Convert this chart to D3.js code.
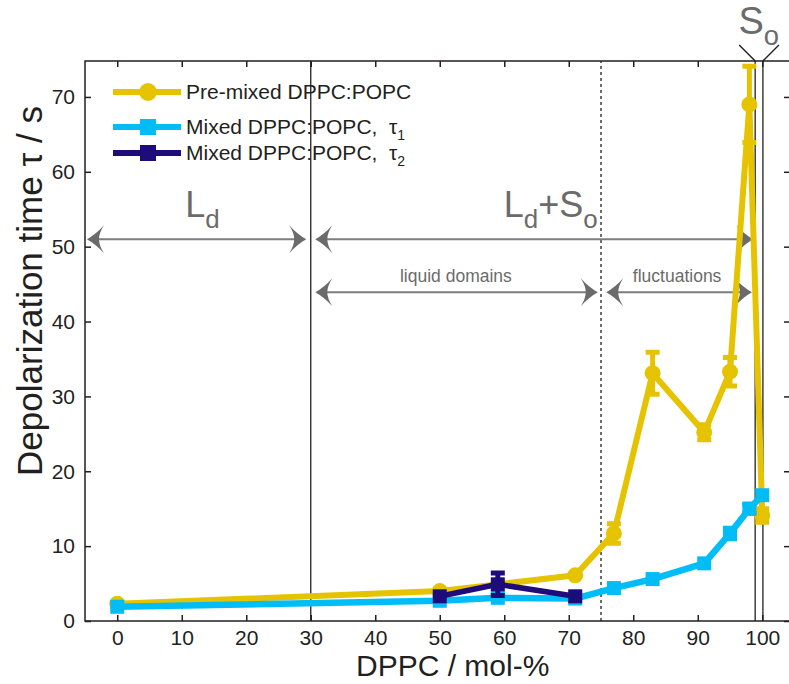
<!DOCTYPE html>
<html>
<head>
<meta charset="utf-8">
<script src="https://cdn.jsdelivr.net/npm/d3@7"></script>
<style>
  html, body { margin: 0; padding: 0; background: #fff; }
  svg { display: block; font-family: "Liberation Sans", Arial, Helvetica, sans-serif; }
</style>
</head>
<body>
<svg id="chart" width="789" height="684"></svg>
<script>
// Depolarization time vs DPPC content
const xTicks = [0, 10, 20, 30, 40, 50, 60, 70, 80, 90, 100];
const yTicks = [0, 10, 20, 30, 40, 50, 60, 70];

// Pre-mixed DPPC:POPC
const preX   = [0, 50, 71, 77, 83, 91, 95, 98, 100];
const preY   = [2.3, 4.0, 6.1, 11.7, 33.1, 25.2, 33.3, 69.0, 14.1];
const preErr = [0, 0, 0, 1.3, 2.8, 1.0, 1.9, 5.1, 0.9];

// Mixed DPPC:POPC, tau 1
const t1X   = [0, 50, 59, 71, 77, 83, 91, 95, 98, 100];
const t1Y   = [1.9, 2.7, 3.1, 3.0, 4.4, 5.6, 7.7, 11.7, 15.0, 16.8];
const t1Err = [0, 0, 0, 0, 0, 0, 0, 0.7, 0.6, 0];

// Mixed DPPC:POPC, tau 2
const t2X   = [50, 59, 71];
const t2Y   = [3.3, 4.9, 3.3];
const t2Err = [0, 1.5, 0];

// phase boundaries (mol-% DPPC)
const solidBoundaries = [30, 98.9, 100.1];
const dottedBoundary = 75;

// annotation arrows: [from, to, level]
const arrowRows = [
  [-4.7, 29.3, 51.0],
  [30.7, 98.6, 51.0],
  [30.7, 74.5, 43.9],
  [75.8, 98.4, 43.9]
];

const COL_PRE = "#e6c300";
const COL_T1  = "#00bdf7";
const COL_T2  = "#1d0c7a";
const GREY    = "#6b6b6b";
const INK     = "#231f20";

const svg = d3.select("#chart");
const x = d3.scaleLinear().domain([-5, 104.3]).range([85, 790]);
const y = d3.scaleLinear().domain([0, 74.8]).range([621, 61]);

// phase boundary lines
svg.selectAll("line.bound").data(solidBoundaries).join("line")
  .attr("x1", d => x(d)).attr("x2", d => x(d))
  .attr("y1", y(0)).attr("y2", y(74.8))
  .attr("stroke", INK).attr("stroke-width", 1.3);
svg.append("line")
  .attr("x1", x(dottedBoundary)).attr("x2", x(dottedBoundary))
  .attr("y1", y(0)).attr("y2", y(74.8))
  .attr("stroke", INK).attr("stroke-width", 1.3)
  .attr("stroke-dasharray", "3,3");

// arrows with concave heads
function head(tx, ty, dir) {
  // dir = -1 points left, +1 points right
  const s = -dir;
  const p = d3.path();
  p.moveTo(tx, ty);
  p.quadraticCurveTo(tx + s * 9, ty - 5, tx + s * 17, ty - 14);
  p.quadraticCurveTo(tx + s * 12, ty - 6, tx + s * 12, ty);
  p.quadraticCurveTo(tx + s * 12, ty + 6, tx + s * 17, ty + 14);
  p.quadraticCurveTo(tx + s * 9, ty + 5, tx, ty);
  p.closePath();
  return p.toString();
}
const arrowG = svg.append("g");
arrowRows.forEach(([a, b, lvl]) => {
  const x0 = x(a), x1 = x(b), yy = y(lvl);
  arrowG.append("line").attr("x1", x0 + 4).attr("x2", x1 - 4)
    .attr("y1", yy).attr("y2", yy)
    .attr("stroke", "#7d7d7d").attr("stroke-width", 2);
  arrowG.append("path").attr("d", head(x0, yy, -1)).attr("fill", GREY);
  arrowG.append("path").attr("d", head(x1, yy, 1)).attr("fill", GREY);
});

// phase labels
function phaseLabel(cx, baseY, parts, size) {
  const t = svg.append("text").attr("x", cx).attr("y", baseY)
    .attr("text-anchor", "middle").attr("fill", GREY)
    .attr("font-size", size);
  parts.forEach(([txt, sub]) => {
    const ts = t.append("tspan").text(txt);
    if (sub) ts.attr("font-size", size * 0.72).attr("dy", size * 0.3);
    else ts.attr("dy", t.selectAll("tspan").size() > 1 ? -size * 0.3 : 0);
  });
  return t;
}
phaseLabel(x(13.2), y(54.0), [["L"], ["d", true]], 36);
phaseLabel(x(67.2), y(54.0), [["L"], ["d", true], ["+S"], ["o", true]], 36);
phaseLabel(x(99.6) - 1, 34, [["S"], ["o", true]], 38);

svg.append("text").attr("x", x(52.5)).attr("y", y(45.3))
  .attr("text-anchor", "middle").attr("fill", GREY).attr("font-size", 17.5)
  .text("liquid domains");
svg.append("text").attr("x", x(86.8)).attr("y", y(45.3))
  .attr("text-anchor", "middle").attr("fill", GREY).attr("font-size", 17.5)
  .text("fluctuations");

// S_o bracket strokes
svg.append("path")
  .attr("d", `M${x(98.9) - 16},${y(74.8) - 16} L${x(98.9)},${y(74.8)} M${x(100.1)},${y(74.8)} L${x(100.1) + 16},${y(74.8) - 16}`)
  .attr("fill", "none").attr("stroke", INK).attr("stroke-width", 1.4);

// series
function drawSeries(xs, ys, errs, color, marker, lw) {
  const pts = xs.map((v, i) => ({ x: v, y: ys[i], e: errs[i] }));
  const g = svg.append("g");
  g.append("path").datum(pts)
    .attr("d", d3.line().x(d => x(d.x)).y(d => y(d.y)))
    .attr("fill", "none").attr("stroke", color)
    .attr("stroke-width", lw).attr("stroke-linejoin", "round");
  const eb = pts.filter(d => d.e > 0);
  g.selectAll("line.eb").data(eb).join("line")
    .attr("x1", d => x(d.x)).attr("x2", d => x(d.x))
    .attr("y1", d => y(d.y - d.e)).attr("y2", d => y(d.y + d.e))
    .attr("stroke", color).attr("stroke-width", 5);
  g.selectAll("path.cap").data(eb).join("path")
    .attr("d", d => `M${x(d.x) - 7},${y(d.y - d.e)}H${x(d.x) + 7}M${x(d.x) - 7},${y(d.y + d.e)}H${x(d.x) + 7}`)
    .attr("stroke", color).attr("stroke-width", 5);
  if (marker === "circle") {
    g.selectAll("circle").data(pts).join("circle")
      .attr("cx", d => x(d.x)).attr("cy", d => y(d.y)).attr("r", 8)
      .attr("fill", color);
  } else {
    g.selectAll("rect").data(pts).join("rect")
      .attr("x", d => x(d.x) - 7).attr("y", d => y(d.y) - 7)
      .attr("width", 14).attr("height", 14).attr("fill", color);
  }
}
drawSeries(preX, preY, preErr, COL_PRE, "circle", 6);
drawSeries(t1X, t1Y, t1Err, COL_T1, "square", 6.5);
drawSeries(t2X, t2Y, t2Err, COL_T2, "square", 5.5);

// axes frame
const axisG = svg.append("g").attr("stroke", INK).attr("stroke-width", 1.5);
axisG.append("rect").attr("x", x(-5)).attr("y", y(74.8))
  .attr("width", x(104.3) - x(-5)).attr("height", y(0) - y(74.8))
  .attr("fill", "none");

const axBottom = d3.axisBottom(x).tickValues(xTicks).tickSize(-6).tickPadding(9);
const axTop = d3.axisTop(x).tickValues(xTicks).tickSize(-6).tickFormat("");
const axLeft = d3.axisLeft(y).tickValues(yTicks).tickSize(-6).tickPadding(10);
const axRight = d3.axisRight(y).tickValues(yTicks).tickSize(-6).tickFormat("");

function styleAxis(g) {
  g.select(".domain").remove();
  g.selectAll(".tick line").attr("stroke", INK).attr("stroke-width", 1.5);
  g.selectAll(".tick text").attr("fill", INK).attr("font-size", 21)
    .attr("font-family", "Liberation Sans, Arial, sans-serif");
}
svg.append("g").attr("transform", `translate(0,${y(0)})`).call(axBottom).call(styleAxis);
svg.append("g").attr("transform", `translate(0,${y(74.8)})`).call(axTop).call(styleAxis);
svg.append("g").attr("transform", `translate(${x(-5)},0)`).call(axLeft).call(styleAxis);
svg.append("g").attr("transform", `translate(${x(104.3)},0)`).call(axRight).call(styleAxis);

// axis titles
svg.append("text").attr("x", x(52)).attr("y", 676)
  .attr("text-anchor", "middle").attr("fill", INK).attr("font-size", 30)
  .text("DPPC / mol-%");
svg.append("text")
  .attr("transform", `translate(42,${291}) rotate(-90)`)
  .attr("text-anchor", "middle").attr("fill", INK).attr("font-size", 35)
  .text("Depolarization time \u03c4 / s");

// legend
const legend = [
  { label: "Pre-mixed DPPC:POPC", sub: null, color: COL_PRE, marker: "circle", ly: 92 },
  { label: "Mixed DPPC:POPC,  \u03c4", sub: "1", color: COL_T1, marker: "square", ly: 127 },
  { label: "Mixed DPPC:POPC,  \u03c4", sub: "2", color: COL_T2, marker: "square", ly: 153 }
];
const lg = svg.append("g");
legend.forEach(d => {
  lg.append("line").attr("x1", 113).attr("x2", 181).attr("y1", d.ly).attr("y2", d.ly)
    .attr("stroke", d.color).attr("stroke-width", 6);
  if (d.marker === "circle") {
    lg.append("circle").attr("cx", 148).attr("cy", d.ly).attr("r", 9).attr("fill", d.color);
  } else {
    lg.append("rect").attr("x", 140).attr("y", d.ly - 8).attr("width", 16).attr("height", 16)
      .attr("fill", d.color);
  }
  const t = lg.append("text").attr("x", 186).attr("y", d.ly + 7)
    .attr("fill", INK).attr("font-size", 21).attr("xml:space", "preserve");
  t.append("tspan").text(d.label);
  if (d.sub) t.append("tspan").attr("font-size", 14).attr("dy", 6).text(d.sub);
});
</script>
</body>
</html>
